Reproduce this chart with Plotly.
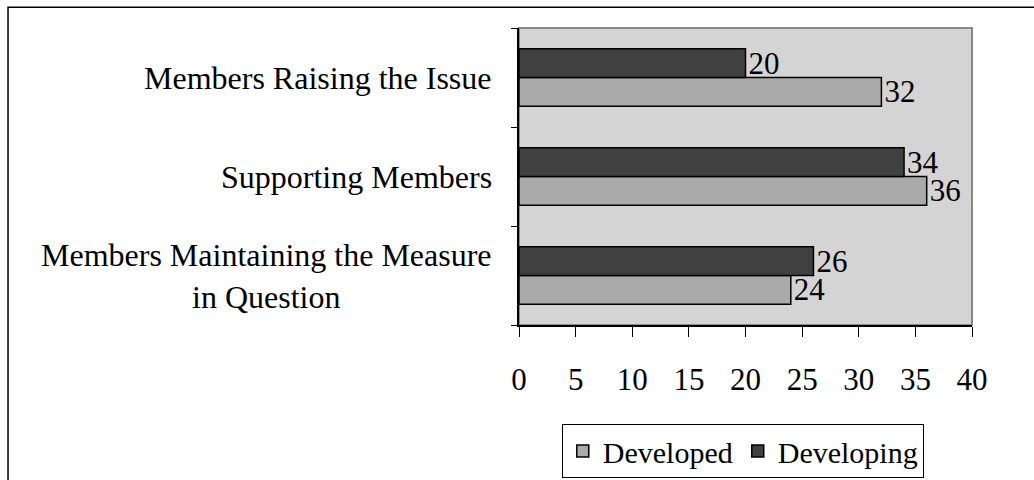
import plotly.graph_objects as go

# Categories listed bottom-to-top along the y axis
categories = [
    "Members Maintaining the Measure<br>in Question",
    "Supporting Members",
    "Members Raising the Issue",
]
developed = [24, 36, 32]
developing = [26, 34, 20]
x_ticks = [0, 5, 10, 15, 20, 25, 30, 35, 40]

FONT = "Liberation Serif, Times New Roman, serif"

fig = go.Figure()
fig.add_trace(go.Bar(
    name="Developed", y=categories, x=developed, orientation="h",
    marker=dict(color="#aaaaaa", line=dict(color="black", width=1.5)),
    text=[str(v) for v in developed], textposition="outside",
    constraintext="none",
    textfont=dict(family=FONT, size=31, color="black"), cliponaxis=False,
))
fig.add_trace(go.Bar(
    name="Developing", y=categories, x=developing, orientation="h",
    marker=dict(color="#404040", line=dict(color="black", width=1.5)),
    text=[str(v) for v in developing], textposition="outside",
    constraintext="none",
    textfont=dict(family=FONT, size=31, color="black"), cliponaxis=False,
))

# Category labels, centred per line, placed left of the axis
annotations = [
    dict(x=-0.055, y=c, xref="paper", yref="y", text=c, showarrow=False,
         xanchor="right", yanchor="middle", align="center",
         font=dict(family=FONT, size=32, color="black"))
    for c in categories
]

shapes = [
    # plot-area frame (top/right in gray)
    dict(type="rect", xref="paper", yref="paper", x0=0, x1=1, y0=0, y1=1,
         line=dict(color="#888888", width=2), layer="below"),
    # outer chart frame
    dict(type="rect", xref="paper", yref="paper", x0=-1.128, x1=1.3,
         y0=-0.7, y1=1.07, line=dict(color="black", width=1.5),
         fillcolor="rgba(0,0,0,0)"),
]

fig.update_layout(
    width=1034, height=480,
    margin=dict(l=519, r=62, t=28, b=155, autoexpand=False),
    paper_bgcolor="white", plot_bgcolor="#d4d4d4",
    barmode="group", bargap=0.42, bargroupgap=0,
    font=dict(family=FONT, size=31, color="black"),
    showlegend=True,
    legend=dict(orientation="h", x=0.494, xanchor="center", y=-0.333,
                yanchor="top", bordercolor="black", borderwidth=1,
                font=dict(family=FONT, size=30, color="black"),
                traceorder="normal", itemwidth=30, tracegroupgap=0),
    annotations=annotations,
    shapes=shapes,
)
fig.update_xaxes(
    range=[0, 40], tickvals=x_ticks, ticktext=[str(t) for t in x_ticks],
    showgrid=False, zeroline=False, showline=True, linecolor="black",
    linewidth=1.5, ticks="outside", ticklen=10, tickcolor="black",
    ticklabelstandoff=16, tickfont=dict(family=FONT, size=31),
)
fig.update_yaxes(
    showticklabels=False, showgrid=False, zeroline=False, showline=True,
    linecolor="black", linewidth=1.5, ticks="outside", ticklen=6,
    tickcolor="black", tickson="boundaries",
)

fig.write_html("out.html")
